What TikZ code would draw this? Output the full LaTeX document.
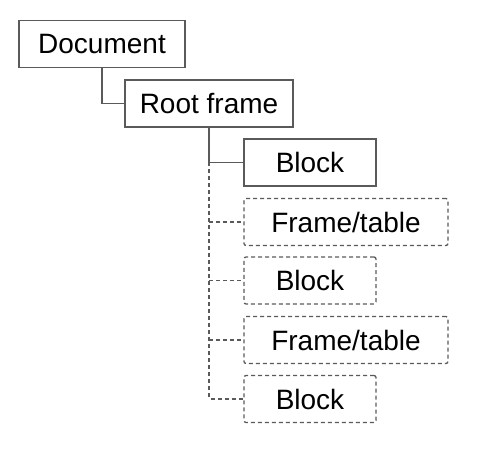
\documentclass[tikz,border=0pt]{standalone}
\usepackage{fontspec}
\setmainfont{Liberation Sans}
\usetikzlibrary{positioning}
\definecolor{edge}{HTML}{5A5A5A}
\tikzset{bx/.style={draw=edge,line width=1.3pt,rectangle,minimum height=47pt,inner sep=0pt,font=\fontsize{28}{34}\selectfont},
dbx/.style={bx,dash pattern=on 4pt off 3pt,rounded corners=2pt},
ln/.style={draw=edge,line width=1.3pt},dln/.style={ln,dash pattern=on 4pt off 3pt}}
\begin{document}
\begin{tikzpicture}[x=1pt,y=1pt]
\useasboundingbox(0,0)rectangle(480,-449);
\node[bx,minimum width=166pt](doc)at(102,-44){Document};
\node[bx,minimum width=168pt](root)at(209,-103.5){Root frame};
\node[bx,minimum width=132pt](b1)at(310,-162.5){Block};
\node[dbx,minimum width=204pt](f1)at(346,-222){Frame/table};
\node[dbx,minimum width=132pt](b2)at(310,-280.5){Block};
\node[dbx,minimum width=204pt](f2)at(346,-340){Frame/table};
\node[dbx,minimum width=132pt](b3)at(310,-399){Block};
\draw[ln](doc.south)|-(root.west);
\draw[ln](root.south)|-(b1.west);
\draw[dln](root.south|-b1.west)|-(b3.west);
\foreach\n in{f1,b2,f2}\draw[dln](root.south|-\n.west)--(\n.west);
\end{tikzpicture}
\end{document}
